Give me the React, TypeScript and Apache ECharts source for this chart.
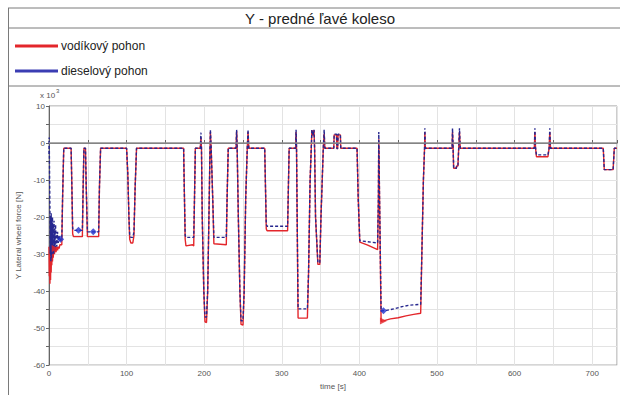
import React, { useEffect, useRef } from "react";
import * as echarts from "echarts";

const titleText = "Y - predné ľavé koleso";
const seriesNames = ["vodíkový pohon", "dieselový pohon"];
const xTicks = [0, 100, 200, 300, 400, 500, 600, 700];
const yTicks = [10, 0, -10, -20, -30, -40, -50, -60];

// time [s], force [x10^3 N]
const vodikovy: [number, number][] = [
  [0, -28], [0.4, -36], [0.8, -30], [1.2, -38], [1.6, -31], [2, -37], [2.4, -30], [2.8, -35], [3.2, -29],
  [3.6, -33], [4, -29], [4.5, -32], [5, -28.5], [5.5, -31], [6, -28], [7, -30], [8, -28], [9, -29.5],
  [10, -28], [11, -29], [12, -28], [13, -28.5], [14, -27.5], [16.5, -27.5], [17.5, -15], [19, -1.4],
  [28.5, -1.4], [29.5, -12], [30.5, -24.5], [31.5, -25.3], [43, -25.3], [44, -12], [45, -1.4], [47, -1.4],
  [48, -12], [49.5, -25.3], [64, -25.3], [65, -12], [66.5, -1.4],
  [100, -1.4], [101.5, -8], [103, -20], [104, -26], [105.5, -27], [108, -27], [109.5, -25], [111, -12], [112.8, -1.4],
  [173.5, -1.4], [174.5, -14], [175.5, -26], [176.5, -27.8], [185, -27.5], [186.5, -27.8], [187.5, -15], [188.6, -1.4],
  [195, -1.4], [195.8, 1.5], [196.5, -1.4], [197.5, -20], [199.5, -40], [201, -48.3], [203, -48.5], [204.5, -40],
  [206.5, -15], [207.5, -1.4], [208, 3], [209, -1.4], [211, -15], [212.5, -27.2], [228.5, -27.5], [229.5, -15],
  [231, -1.4], [241, -1.4], [241.8, 3.2], [242.5, -1.4], [244, -20], [246, -40], [247.5, -49], [250, -49.2],
  [251.5, -40], [253.5, -15], [255.5, -1.4], [256.5, 3], [257.5, -1.4],
  [278, -1.4], [279, -12], [280, -23.2], [281, -23.7], [307.5, -23.7], [308.5, -12], [309.5, -1.4], [317.8, -1.4],
  [318.4, 3], [319, -1.4], [319.8, -20], [321, -47.3], [333, -47.3], [334.5, -35], [336.5, -10], [338, -1.4],
  [338.8, 3.5], [340, 2], [341.5, 3.5], [342.3, -1.4], [343.5, -20], [346.5, -32.8], [349, -32.8], [350.5, -20],
  [353.5, -1.4], [354.6, 2.5], [355.5, -1.4],
  [367, -1.4], [367.5, 2.2], [370.5, 2.2], [371, -1.5], [372, -1.5], [372.5, 2.2], [375.5, 2.2], [376, -1.4],
  [397, -1.4], [398.5, -15], [400.5, -26.8], [410, -27.5], [423.5, -28.8], [424.5, -15], [425, 1], [426, -15],
  [428, -48.2], [432, -48], [440, -47.5], [450, -47.2], [460, -46.7], [470, -46.3], [479, -46], [480.5, -30],
  [482.5, -10], [484, -1.4], [484.4, 3], [485, -1.4],
  [519.5, -1.4], [520, 3], [520.8, -1.4], [521.5, -6.8], [525, -6.8], [525.3, -6.2], [527, -6.2], [528, -1.4],
  [529, 3], [530, -1.4],
  [625.5, -1.4], [626.2, 3], [627, -1.4], [628.2, -3.7], [643, -3.7], [644.5, -1.4], [645.4, 3], [646.3, -1.4],
  [714.3, -1.4], [715.6, -7.2], [727, -7.2], [728.5, -1.4], [732, -1.4],
];

const dieselovy: [number, number][] = [
  [0, -3], [0.3, 1.5], [0.8, -10], [1.2, -18], [1.6, -30], [2, -20], [2.4, -32], [2.8, -19], [3.2, -31],
  [3.6, -21], [4, -30], [4.5, -20], [5, -29], [5.5, -22], [6, -30], [6.5, -21], [7, -28], [7.5, -23], [8, -29],
  [8.5, -22], [9, -28], [9.5, -24], [10, -28], [11, -24], [12, -27], [13, -25], [14, -26.5], [15, -26],
  [16.5, -26], [17.5, -15], [19, -1.4],
  [28.5, -1.4], [29.5, -12], [30.5, -23], [31.5, -23.6], [43, -23.6], [44, -12], [45, -1.4], [47, -1.4],
  [48, -12], [49.5, -24], [64, -24], [65, -12], [66.5, -1.4],
  [100, -1.4], [101.5, -8], [103, -20], [104, -25], [105.5, -25.5], [108, -25.5], [109.5, -24], [111, -12], [112.8, -1.4],
  [173.5, -1.4], [174.5, -14], [175.5, -25], [176.5, -25.5], [186.5, -25.5], [187.5, -15], [188.6, -1.4],
  [195, -1.4], [195.8, 2.8], [196.5, -1.4], [197.5, -20], [199.5, -40], [201, -47], [203, -47], [204.5, -40],
  [206.5, -15], [207.5, -1.4], [208, 3.6], [209, -1.4], [211, -15], [212.5, -25.5], [228.5, -25.5], [229.5, -15],
  [231, -1.4], [241, -1.4], [241.8, 3.6], [242.5, -1.4], [244, -20], [246, -40], [247.5, -48], [250, -48],
  [251.5, -40], [253.5, -15], [255.5, -1.4], [256.5, 3.6], [257.5, -1.4],
  [278, -1.4], [279, -12], [280, -22], [281, -22.5], [307.5, -22.5], [308.5, -12], [309.5, -1.4], [317.8, -1.4],
  [318.4, 3.6], [319, -1.4], [319.8, -20], [321, -44.8], [333, -44.8], [334.5, -35], [336.5, -10], [338, -1.4],
  [338.8, 3.6], [340, 2], [341.5, 3.6], [342.3, -1.4], [343.5, -20], [346.5, -32.3], [349, -32.3], [350.5, -20],
  [353.5, -1.4], [354.6, 3.6], [355.5, -1.4],
  [367, -1.4], [367.5, 2.4], [370.5, 2.4], [371, -1.5], [372, -1.5], [372.5, 2.4], [375.5, 2.4], [376, -1.4],
  [397, -1.4], [398.5, -15], [400.5, -26.4], [423.5, -27], [424.5, -15], [425, 3], [426, -15],
  [428, -45.4], [435, -45.2], [445, -44.8], [455, -44.2], [465, -43.8], [479, -43.6], [480.5, -30],
  [482.5, -10], [484, -1.4], [484.4, 4], [485, -1.4],
  [519.5, -1.4], [520, 4], [520.8, -1.4], [521.5, -6.8], [525, -6.8], [525.3, -6.2], [527, -6.2], [528, -1.4],
  [529, 4], [530, -1.4],
  [625.5, -1.4], [626.2, 4], [627, -1.4], [628.2, -3.2], [643, -3.2], [644.5, -1.4], [645.4, 4], [646.3, -1.4],
  [714.3, -1.4], [715.6, -7.2], [727, -7.2], [728.5, -1.4], [732, -1.4],
];

const vodikovyMarkers: [number, number][] = [[8, -28.5], [431, -48.1]];
const dieselovyMarkers: [number, number][] = [[15, -26], [38, -23.6], [57, -24], [431, -45.3]];

const RED = "#e3262b";
const BLUE_LEGEND = "#3b3db3";
const BLUE = "#26278f";
const FONT = "Liberation Sans";

export default function App() {
  const ref = useRef<HTMLDivElement>(null);
  useEffect(() => {
    if (!ref.current) return;
    const chart = echarts.init(ref.current, undefined, { renderer: "svg" });
    const frame = "#7a7a7a";
    chart.setOption({
      animation: false,
      backgroundColor: "#ffffff",
      grid: {
        left: 49,
        top: 106,
        right: -2,
        bottom: 27,
        show: true,
        borderColor: "#9a9a9a",
        borderWidth: 1,
      },
      xAxis: {
        type: "value",
        min: 0,
        max: 732,
        interval: 50,
        name: "time [s]",
        nameLocation: "middle",
        nameGap: 14,
        nameTextStyle: { fontSize: 8, color: "#555", fontFamily: FONT },
        axisLine: { lineStyle: { color: "#666", width: 1 } },
        axisTick: { show: true, inside: true, length: 3, lineStyle: { color: "#666" } },
        axisLabel: {
          fontSize: 8,
          color: "#555",
          fontFamily: FONT,
          margin: 4,
          formatter: (v: number) => (xTicks.includes(v) ? String(v) : ""),
        },
        splitLine: { show: true, lineStyle: { color: "#e3e3e3", width: 1 } },
      },
      yAxis: {
        type: "value",
        min: -60,
        max: 10,
        interval: 5,
        name: "Y Lateral wheel force [N]",
        nameLocation: "middle",
        nameGap: 22,
        nameTextStyle: { fontSize: 8, color: "#555", fontFamily: FONT },
        axisLine: { show: true, lineStyle: { color: "#666", width: 1 } },
        axisTick: { show: true, inside: false, length: 3, lineStyle: { color: "#666" } },
        axisLabel: {
          fontSize: 8,
          color: "#555",
          fontFamily: FONT,
          margin: 4,
          formatter: (v: number) => (yTicks.includes(v) ? String(v) : ""),
        },
        splitLine: { show: true, lineStyle: { color: "#e3e3e3", width: 1 } },
      },
      series: [
        {
          type: "line",
          name: "zero",
          data: [],
          z: 1,
          silent: true,
          markLine: {
            silent: true,
            symbol: "none",
            label: { show: false },
            lineStyle: { color: "#8f8f8f", width: 1.5, type: "solid" },
            data: [{ yAxis: 0 }],
          },
        },
        {
          type: "line",
          name: seriesNames[0],
          data: vodikovy,
          showSymbol: false,
          z: 2,
          lineStyle: { color: RED, width: 1.4 },
          itemStyle: { color: RED },
        },
        {
          type: "line",
          name: seriesNames[1],
          data: dieselovy,
          showSymbol: false,
          z: 3,
          lineStyle: { color: BLUE, width: 1.4, type: [3, 2] },
          itemStyle: { color: BLUE },
        },
        {
          type: "scatter",
          data: vodikovyMarkers,
          symbol: "triangle",
          symbolRotate: -90,
          symbolSize: 7,
          z: 4,
          itemStyle: { color: RED },
        },
        {
          type: "scatter",
          data: dieselovyMarkers,
          symbol: "diamond",
          symbolSize: 7,
          z: 4,
          itemStyle: { color: "#2233cc" },
        },
      ],
      graphic: [
        { type: "line", shape: { x1: 8, y1: 8, x2: 640, y2: 8 }, style: { stroke: frame, lineWidth: 1 } },
        { type: "line", shape: { x1: 8, y1: 28, x2: 640, y2: 28 }, style: { stroke: frame, lineWidth: 1 } },
        { type: "line", shape: { x1: 8, y1: 86, x2: 640, y2: 86 }, style: { stroke: frame, lineWidth: 1 } },
        { type: "line", shape: { x1: 8.5, y1: 8, x2: 8.5, y2: 400 }, style: { stroke: frame, lineWidth: 1 } },
        {
          type: "text",
          x: 320,
          y: 18,
          style: {
            text: titleText,
            fontSize: 15,
            fontFamily: FONT,
            fill: "#222",
            align: "center",
            verticalAlign: "middle",
          },
        },
        { type: "line", shape: { x1: 15, y1: 46, x2: 58, y2: 46 }, style: { stroke: RED, lineWidth: 3 } },
        {
          type: "text",
          x: 61,
          y: 46,
          style: { text: seriesNames[0], fontSize: 12, fontFamily: FONT, fill: "#222", verticalAlign: "middle" },
        },
        { type: "line", shape: { x1: 15, y1: 71, x2: 58, y2: 71 }, style: { stroke: BLUE_LEGEND, lineWidth: 3 } },
        {
          type: "text",
          x: 61,
          y: 71,
          style: { text: seriesNames[1], fontSize: 12, fontFamily: FONT, fill: "#222", verticalAlign: "middle" },
        },
        {
          type: "text",
          x: 40,
          y: 95,
          style: { text: "x 10", fontSize: 8, fontFamily: FONT, fill: "#555", verticalAlign: "middle" },
        },
        {
          type: "text",
          x: 56,
          y: 91,
          style: { text: "3", fontSize: 6, fontFamily: FONT, fill: "#555", verticalAlign: "middle" },
        },
      ],
    });
    return () => chart.dispose();
  }, []);
  return (
    <div
      ref={ref}
      style={{ position: "fixed", left: 0, top: 0, width: 620, height: 395, background: "#fff" }}
    />
  );
}
